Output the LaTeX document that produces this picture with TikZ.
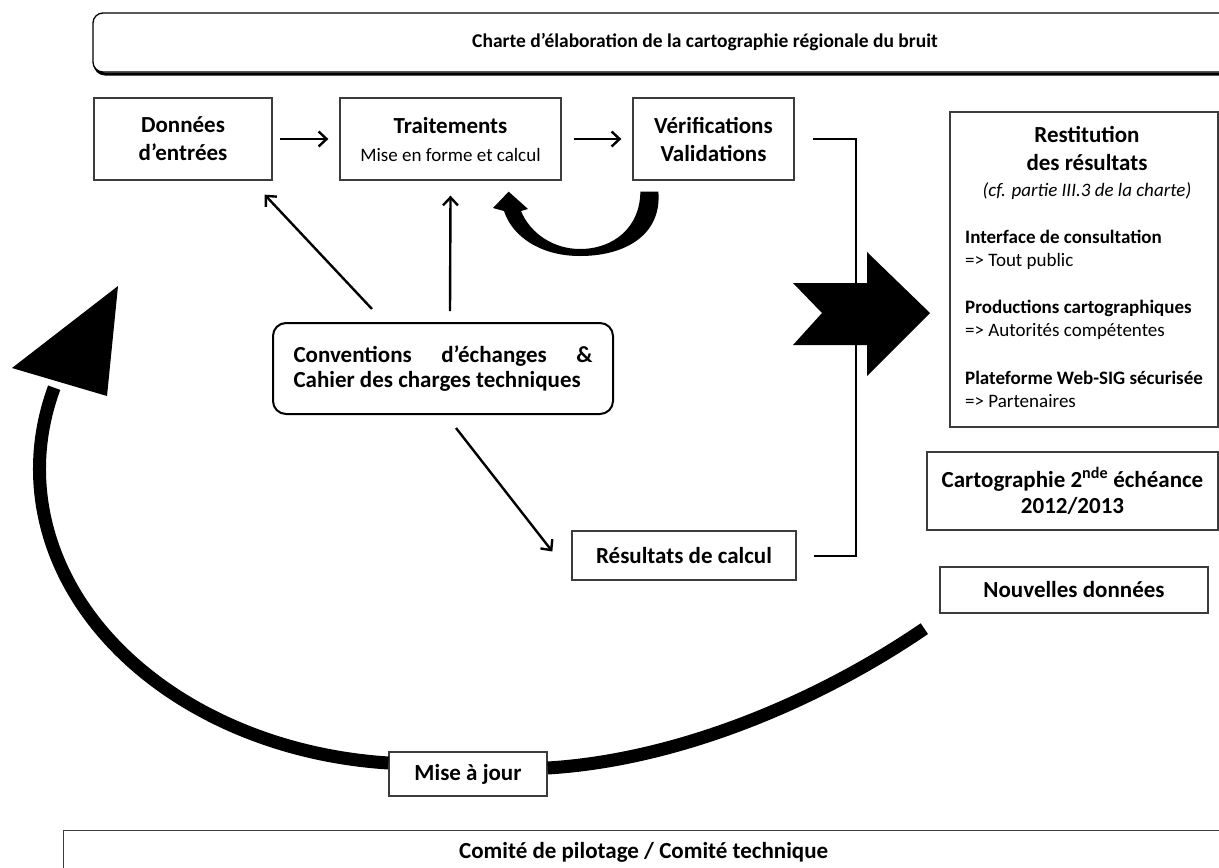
\documentclass[tikz,border=0pt]{standalone}
\usepackage{fontspec}
\setmainfont{Carlito}
\usetikzlibrary{arrows.meta, calc}
\definecolor{BoxGray}{RGB}{60,60,60}

\begin{document}
\begin{tikzpicture}[x=1pt, y=-1pt,
  box/.style={draw=BoxGray, line width=1.3pt, fill=white, align=center,
    inner sep=0pt, font=\fontsize{23}{28}\selectfont\bfseries},
  txt/.style={inner sep=0pt, font=\fontsize{19}{23}\selectfont},
  arr/.style={line width=2.4pt, -{Straight Barb[length=8pt,width=15pt]}},
  link/.style={line width=2pt}]
\useasboundingbox (0,0) rectangle (1219,868);
\clip (0,0) rectangle (1219,868);

% Title banner (with shadow)
\draw[line width=3pt, rounded corners=10pt] (95,15) rectangle (1319,74);
\node[draw, line width=1.3pt, fill=white, rounded corners=10pt, inner sep=0pt,
  minimum width=1224pt, minimum height=59pt,
  font=\fontsize{19.5}{24}\selectfont\bfseries] (titre) at (705,42.5)
  {Charte d’élaboration de la cartographie régionale du bruit};

% Processing chain
\node[box, minimum width=178pt, minimum height=82pt] (donnees) at (183,139)
  {Données\\d’entrées};
\node[box, minimum width=221pt, minimum height=82pt] (trait) at (450.5,139)
  {Traitements\\{\fontsize{19}{23}\selectfont\mdseries Mise en forme et calcul}};
\node[box, minimum width=161pt, minimum height=82pt] (verif) at (713.5,139)
  {Vérifications\\Validations};
\node[box, minimum width=224pt, minimum height=49pt] (result) at (684,555.5)
  {Résultats de calcul};

\draw[arr, shorten <=7pt, shorten >=11pt] (donnees) -- (trait);
\draw[arr, shorten <=12pt, shorten >=11pt] (trait) -- (verif);

% Conventions
\node[box, draw=black, line width=2pt, rounded corners=13pt,
  minimum width=340pt, minimum height=91pt, text width=299pt, align=justify,
  font=\fontsize{23}{25}\selectfont\bfseries] (conv) at (443,368.5)
  {Conventions d’échanges \&\linebreak Cahier des charges techniques};

\draw[arr] ($(conv.north)+(-71,-13)$) -- ($(donnees.south east)+(-8,14)$);
\draw[arr] ($(conv.north)+(7,-11)$) -- ($(trait.south)+(0,15)$);
\draw[arr] ($(conv.south)+(13,13)$) -- ($(result.west)+(-19,-4)$);

% Loop back under the boxes
\coordinate (boucleA) at ($(verif.south west)+(8,11)$);
\coordinate (boucleB) at ($(trait.south east)+(-53,11)$);
\fill (boucleA) -- ++(18,0) .. controls (662,235) and (625,256) .. (580,256)
  .. controls (540,256) and (512,236) .. (504,211) -- (493,208) -- (boucleB)
  -- (528,209) -- (521,211) .. controls (530,233) and (553,249) .. (580,249)
  .. controls (613,249) and (640,228) .. (boucleA) -- cycle;

% Bracket to the big arrow
\draw[link] ([xshift=18pt]verif.east) -- ++(43,0) |- ([xshift=17pt]result.east);
\fill (793,283) -- (867,283) -- (867,252) -- (930,313) -- (867,376)
  -- (867,345) -- (793,345) -- (822,313) -- cycle;

% Restitution
\node[box, minimum width=268pt, minimum height=315pt] (resti) at (1084,269.5) {};
\node[txt, font=\fontsize{23}{28}\selectfont\bfseries, anchor=base] (restit1)
  at (1087,142.5) {Restitution};
\node[txt, font=\fontsize{23}{28}\selectfont\bfseries, anchor=base] (restit2)
  at (1087,170.5) {des résultats};
\node[txt, font=\fontsize{19}{23}\selectfont\itshape, anchor=base] (restit3)
  at (1087,196.5) {(cf. partie III.3 de la charte)};
\foreach \y/\head/\who in {243/Interface de consultation/Tout public,
    313/Productions cartographiques/Autorités compétentes,
    384/Plateforme Web-SIG sécurisée/Partenaires}{
  \node[txt, font=\fontsize{19}{23}\selectfont\bfseries, anchor=base west]
    (tete\y) at (965,\y) {\head};
  \node[txt, anchor=base west] (cible\y) at (965,\y+23.5) {=> \who};
}

% Second round
\node[box, minimum width=291pt, minimum height=78pt,
  font=\fontsize{23}{26}\selectfont\bfseries] (carto) at (1072.5,491)
  {Cartographie 2\textsuperscript{nde} échéance\\2012/2013};
\node[box, minimum width=268pt, minimum height=46pt] (nouv) at (1074,590)
  {Nouvelles données};

% Update loop
\coordinate (majA) at ($(nouv.south west)+(-15,15)$);
\node[box, minimum width=158pt, minimum height=44pt] (maj) at (468,774)
  {Mise à jour};
\draw[line width=13pt] (majA) .. controls (820,700) and (680,760)
  .. ($(maj.east)+(0,-6)$);
\draw[line width=13pt] ($(maj.west)+(0,-11)$)
  arc[start angle=94.7, end angle=196, x radius=380, y radius=295];
\coordinate (majtip) at (118,286);
\fill (12,368) -- (majtip) -- (107,396) -- cycle;

% Steering committee
\node[box, minimum width=1160pt, minimum height=44pt, anchor=north west]
  (comite) at (63,830) {Comité de pilotage / Comité technique};

\end{tikzpicture}
\end{document}
